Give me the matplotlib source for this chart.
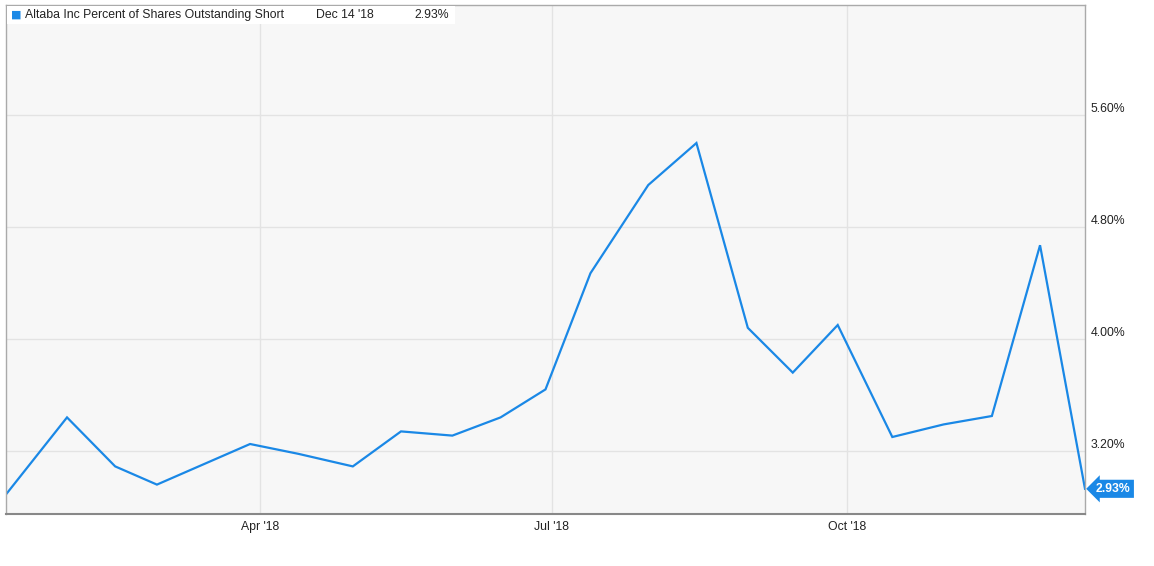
import pandas as pd
import matplotlib.pyplot as plt
import matplotlib.dates as mdates
import matplotlib.transforms as mtransforms

plt.rcParams['font.family'] = ['Liberation Sans', 'DejaVu Sans']

dates = pd.to_datetime([
    '2018-01-12', '2018-01-31', '2018-02-15', '2018-02-28', '2018-03-15',
    '2018-03-29', '2018-04-13', '2018-04-30', '2018-05-15', '2018-05-31',
    '2018-06-15', '2018-06-29', '2018-07-13', '2018-07-31', '2018-08-15',
    '2018-08-31', '2018-09-14', '2018-09-28', '2018-10-15', '2018-10-31',
    '2018-11-15', '2018-11-30', '2018-12-14'])
short_pct = [2.89, 3.44, 3.09, 2.96, 3.11, 3.25, 3.18, 3.09, 3.34, 3.31,
             3.44, 3.64, 4.47, 5.10, 5.40, 4.08, 3.76, 4.10, 3.30, 3.39,
             3.45, 4.67, 2.93]
y_ticks = [3.20, 4.00, 4.80, 5.60]
x_ticks = pd.to_datetime(['2018-04-01', '2018-07-01', '2018-10-01'])
series_name = 'Altaba Inc Percent of Shares Outstanding Short'

blue = '#1a88e6'
fs = 8.8

fig = plt.figure(figsize=(11.54, 5.66), dpi=100)
ax = fig.add_axes([6 / 1154, 1 - 514 / 566, 1079 / 1154, 509 / 566])
ax.set_facecolor('#f7f7f7')

ax.plot(dates, short_pct, color=blue, lw=1.6, solid_joinstyle='miter')

ax.set_xlim(dates[0], dates[-1])
ax.set_ylim(2.75, 6.386)

ax.set_xticks(x_ticks)
ax.xaxis.set_major_formatter(mdates.DateFormatter("%b '%y"))
ax.yaxis.tick_right()
ax.set_yticks(y_ticks)
ax.set_yticklabels([f'{v:.2f}%' for v in y_ticks], va='center')
ax.tick_params(axis='x', length=0, pad=5, labelsize=fs, labelcolor='#222222')
ax.tick_params(axis='y', length=0, pad=4, labelsize=fs, labelcolor='#222222')
# labels sit a little above their grid lines
shift = mtransforms.ScaledTranslation(0, 6 / 100, fig.dpi_scale_trans)
for lbl in ax.get_yticklabels():
    lbl.set_transform(lbl.get_transform() + shift)
ax.grid(True, color='#e3e3e3', lw=1)
ax.set_axisbelow(True)

for side in ['left', 'right', 'top']:
    ax.spines[side].set_color('#aaaaaa')
    ax.spines[side].set_linewidth(1)
ax.spines['bottom'].set_color('#888888')
ax.spines['bottom'].set_linewidth(1.5)

# legend strip in the top-left corner
fig.patches.append(plt.Rectangle((7 / 1154, 1 - 24 / 566), 448 / 1154, 18 / 566,
                                 transform=fig.transFigure, fc='white', ec='none', zorder=3))
fig.text(11 / 1154, 1 - 15 / 566, '\u25A0', color=blue, fontsize=8, va='center',
         family='DejaVu Sans', zorder=4)
fig.text(25 / 1154, 1 - 15 / 566, series_name, fontsize=fs, color='#222222', va='center', zorder=4)
fig.text(316 / 1154, 1 - 15 / 566, dates[-1].strftime("%b %d '%y"), fontsize=fs,
         color='#222222', va='center', zorder=4)
fig.text(414 / 1154, 1 - 15 / 566, f'{short_pct[-1]:.2f}%', fontsize=fs,
         color='#222222', va='center', zorder=4)

# last value badge
ax.annotate(f'{short_pct[-1]:.2f}%', xy=(dates[-1], short_pct[-1]), xytext=(8, 0),
            textcoords='offset points', va='center', ha='left', color='white',
            fontsize=fs, fontweight='bold', annotation_clip=False,
            bbox=dict(boxstyle='larrow,pad=0.25', fc=blue, ec='none'))

fig.savefig('out.png', dpi=100)
